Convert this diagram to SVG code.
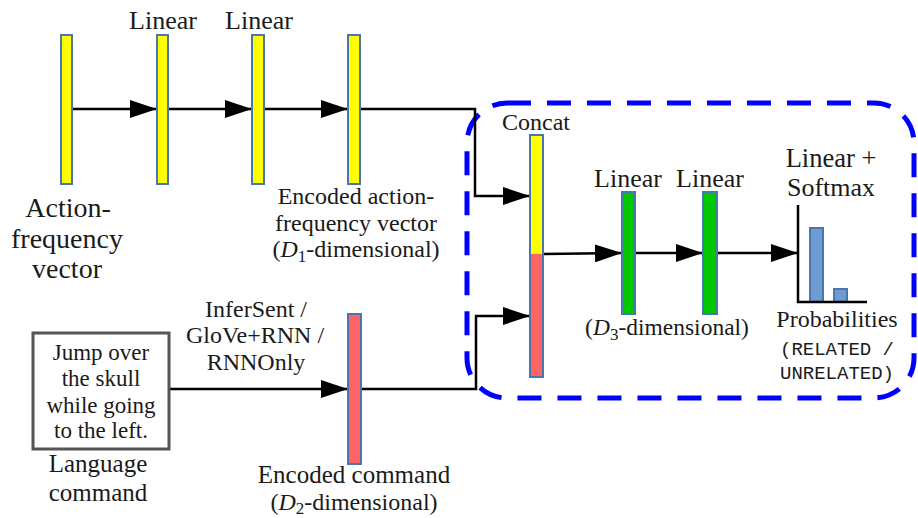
<svg xmlns="http://www.w3.org/2000/svg" width="918" height="518" viewBox="0 0 918 518">
<defs>
<marker id="ah" markerUnits="userSpaceOnUse" markerWidth="27" markerHeight="18" refX="27" refY="9" orient="auto">
<path d="M0,0 L27,9 L0,18 z" fill="#000"/>
</marker>
<style>
text{fill:#1a1a1a;text-anchor:middle}
.ser{font-family:'Liberation Serif','DejaVu Serif',serif}
.mono{font-family:'Liberation Mono','DejaVu Sans Mono',monospace}
.bar{stroke:#4a76b0;stroke-width:2}
.y{fill:#ffff00}
.r{fill:#ff6464}
.g{fill:#00c800}
.c{fill:none;stroke:#000;stroke-width:2.5}
.a{marker-end:url(#ah)}
.pb{fill:#6e9bd0;stroke:#4a76b0;stroke-width:2}
</style>
</defs>
<rect width="918" height="518" fill="#fff"/>

<g id="dashed-box">
<rect x="467" y="103" width="447" height="295" rx="40" ry="40" fill="none" stroke="#0000ff" stroke-width="5" stroke-dasharray="24 16"/>
</g>

<g id="connectors">
<line class="c a" x1="72" y1="109" x2="157" y2="109"/>
<line class="c a" x1="168" y1="109" x2="252" y2="109"/>
<line class="c a" x1="264" y1="109" x2="348" y2="109"/>
<polyline class="c a" points="360,109 475,109 475,196 530,196"/>
<line class="c a" x1="169" y1="389" x2="348" y2="389"/>
<polyline class="c a" points="362,389 476,389 476,316 530,316"/>
<line class="c a" x1="543" y1="254" x2="622" y2="253"/>
<line class="c a" x1="635" y1="253" x2="703" y2="253"/>
<line class="c a" x1="717" y1="253" x2="798" y2="253"/>
</g>

<g class="ser" font-family="'Liberation Serif','DejaVu Serif',serif">
<g id="action-vector">
<rect class="bar y" x="61" y="35" width="11" height="149"/>
<text class="ser" font-size="28" x="68" y="217">Action-</text>
<text class="ser" font-size="28" x="67" y="248">frequency</text>
<text class="ser" font-size="28" x="67" y="278">vector</text>
</g>

<g id="linear1">
<rect class="bar y" x="157" y="35" width="11" height="149"/>
<text class="ser" font-size="26" x="163" y="29">Linear</text>
</g>

<g id="linear2">
<rect class="bar y" x="252" y="35" width="12" height="149"/>
<text class="ser" font-size="26" x="259" y="29">Linear</text>
</g>

<g id="encoded-action">
<rect class="bar y" x="348" y="35" width="12" height="149"/>
<text class="ser" font-size="24" x="356" y="204">Encoded action-</text>
<text class="ser" font-size="24" x="356" y="231">frequency vector</text>
<text class="ser" font-size="24" x="356" y="257">(<tspan font-style="italic">D</tspan><tspan font-size="17" dy="5">1</tspan><tspan dy="-5">-dimensional)</tspan></text>
</g>

<g id="language-command">
<rect x="33" y="333" width="136" height="116" fill="#fff" stroke="#555" stroke-width="3"/>
<text class="ser" font-size="23" x="101" y="360">Jump over</text>
<text class="ser" font-size="23" x="101" y="386">the skull</text>
<text class="ser" font-size="23" x="101" y="413">while going</text>
<text class="ser" font-size="23" x="101" y="438">to the left.</text>
<text class="ser" font-size="25" x="98" y="472">Language</text>
<text class="ser" font-size="25" x="98" y="501">command</text>
</g>

<g id="encoder-label">
<text class="ser" font-size="24" x="256" y="317">InferSent /</text>
<text class="ser" font-size="24" x="255" y="343">GloVe+RNN /</text>
<text class="ser" font-size="24" x="256" y="370">RNNOnly</text>
</g>

<g id="encoded-command">
<rect class="bar r" x="348" y="314" width="13" height="150"/>
<text class="ser" font-size="25" x="354" y="483">Encoded command</text>
<text class="ser" font-size="24" x="354" y="510">(<tspan font-style="italic">D</tspan><tspan font-size="17" dy="4">2</tspan><tspan dy="-4">-dimensional)</tspan></text>
</g>

<g id="concat">
<rect class="y" x="530" y="135" width="13" height="119"/>
<rect class="r" x="530" y="254" width="13" height="123"/>
<rect x="530" y="135" width="13" height="242" fill="none" stroke="#4a76b0" stroke-width="2"/>
<text class="ser" font-size="24" x="536" y="130">Concat</text>
</g>

<g id="linear3">
<rect class="bar g" x="622" y="192" width="13" height="122"/>
<text class="ser" font-size="26" x="628" y="187">Linear</text>
</g>

<g id="linear4">
<rect class="bar g" x="703" y="192" width="14" height="122"/>
<text class="ser" font-size="26" x="710" y="187">Linear</text>
<text class="ser" font-size="23.5" x="667" y="335">(<tspan font-style="italic">D</tspan><tspan font-size="17" dy="5">3</tspan><tspan dy="-5">-dimensional)</tspan></text>
</g>

<g id="softmax">
<text class="ser" font-size="26.5" x="831" y="167">Linear +</text>
<text class="ser" font-size="26" x="831" y="196">Softmax</text>
<rect class="pb" x="810" y="228" width="13" height="74"/>
<rect class="pb" x="834" y="289" width="13" height="13"/>
<polyline points="798,205 798,302 867,302" fill="none" stroke="#000" stroke-width="2.5"/>
<text class="ser" font-size="24" x="837" y="327">Probabilities</text>
<text class="mono" font-size="19" x="837" y="355">(RELATED /</text>
<text class="mono" font-size="19" x="837" y="379">UNRELATED)</text>
</g>
</g>
</svg>
